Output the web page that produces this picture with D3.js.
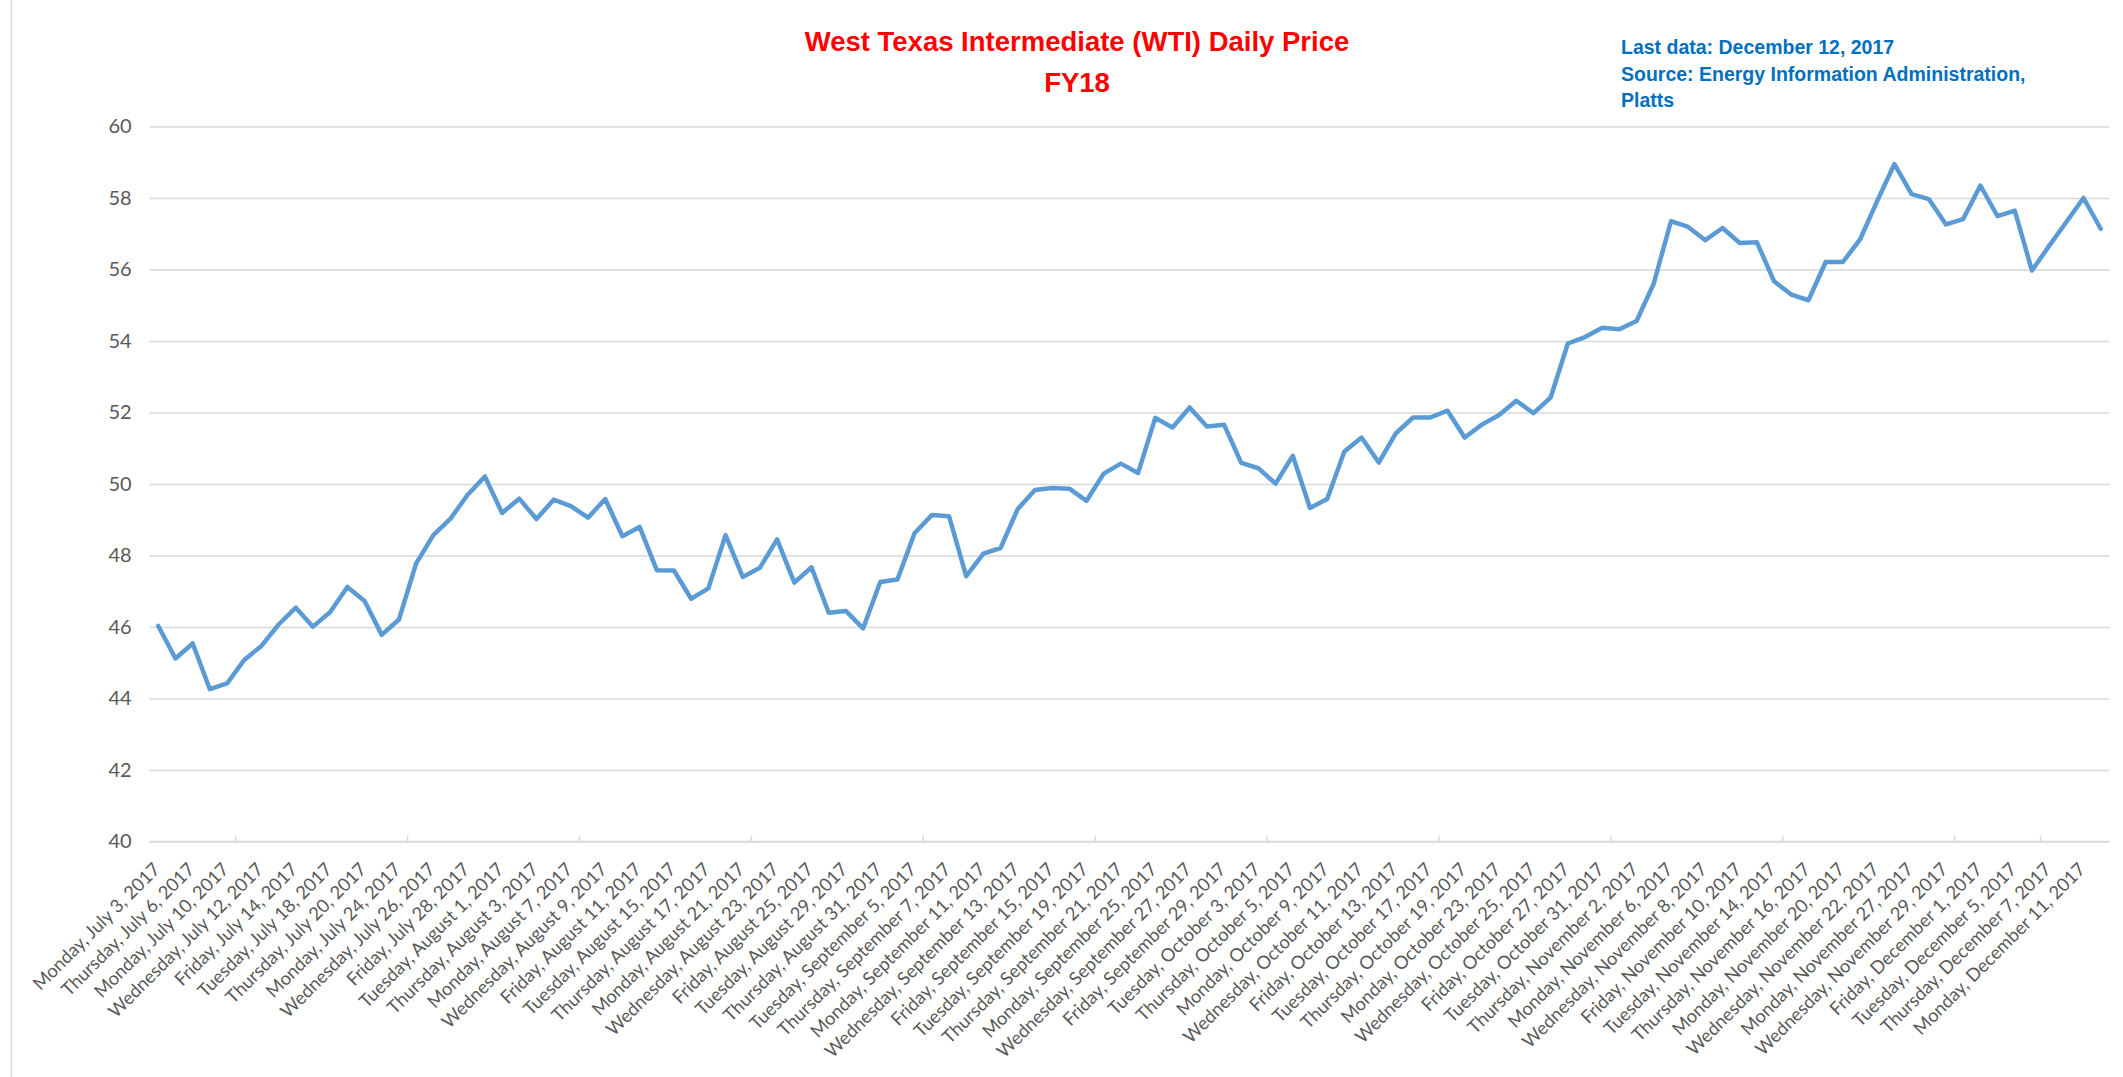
<!DOCTYPE html>
<html>
<head>
<meta charset="utf-8">
<script src="https://cdn.jsdelivr.net/npm/d3@7"></script>
<style>
    body { margin: 0; background: #fff; }
    svg { display: block; }
</style>
</head>
<body>
<svg id="chart" width="2123" height="1077"></svg>
<script>
// Trading days (EIA spot series), July 3 - December 12, 2017
const julyDays = [3, 5, 6, 7, 10, 11, 12, 13, 14, 17, 18, 19, 20, 21, 24, 25, 26, 27, 28, 31];
const augustDays = [1, 2, 3, 4, 7, 8, 9, 10, 11, 14, 15, 16, 17, 18, 21, 22, 23, 24, 25, 28, 29, 30, 31];
const septemberDays = [1, 5, 6, 7, 8, 11, 12, 13, 14, 15, 18, 19, 20, 21, 22, 25, 26, 27, 28, 29];
const octoberDays = [2, 3, 4, 5, 6, 9, 10, 11, 12, 13, 16, 17, 18, 19, 20, 23, 24, 25, 26, 27, 30, 31];
const novemberDays = [1, 2, 3, 6, 7, 8, 9, 10, 13, 14, 15, 16, 17, 20, 21, 22, 24, 27, 28, 29, 30];
const decemberDays = [1, 4, 5, 6, 7, 8, 11, 12];

// WTI daily price ($/bbl)
const wtiPrice = [
    46.03, 45.12, 45.54, 44.26, 44.42, 45.08, 45.47, 46.07, 46.54, 46.01,
    46.42, 47.12, 46.73, 45.78, 46.21, 47.78, 48.57, 49.03, 49.70, 50.21,
    49.19, 49.59, 49.02, 49.56, 49.38, 49.06, 49.58, 48.54, 48.80, 47.59,
    47.58, 46.79, 47.08, 48.57, 47.40, 47.66, 48.45, 47.24, 47.67, 46.40,
    46.45, 45.96, 47.26, 47.33, 48.63, 49.13, 49.10, 47.42, 48.05, 48.21,
    49.30, 49.83, 49.89, 49.87, 49.53, 50.29, 50.57, 50.31, 51.85, 51.58,
    52.14, 51.61, 51.66, 50.59, 50.44, 50.01, 50.79, 49.33, 49.58, 50.91,
    51.30, 50.60, 51.42, 51.86, 51.86, 52.05, 51.30, 51.66, 51.93, 52.33,
    51.98, 52.42, 53.93, 54.11, 54.37, 54.33, 54.56, 55.61, 57.35, 57.19,
    56.82, 57.16, 56.74, 56.76, 55.67, 55.30, 55.14, 56.21, 56.21, 56.84,
    57.92, 58.95, 58.11, 57.97, 57.26, 57.41, 58.35, 57.49, 57.65, 55.97,
    56.66, 57.33, 58.00, 57.14
];

const yTicks = [40, 42, 44, 46, 48, 50, 52, 54, 56, 58, 60];
const titleLines = ["West Texas Intermediate (WTI) Daily Price", "FY18"];
const noteLines = ["Last data: December 12, 2017", "Source: Energy Information Administration,", "Platts"];

// build the date list
const monthDays = [julyDays, augustDays, septemberDays, octoberDays, novemberDays, decemberDays];
const dates = [];
monthDays.forEach((days, m) => {
    days.forEach(d => dates.push(new Date(2017, 6 + m, d)));
});
const data = dates.map((d, i) => ({ date: d, key: i, value: wtiPrice[i] }));
const fmt = d3.timeFormat("%A, %B %-d, %Y");

const svg = d3.select("#chart");
const margin = { left: 149.7, right: 2109.3, top: 126.5, bottom: 841.5 };

const x = d3.scaleBand()
    .domain(data.map(d => d.key))
    .range([margin.left, margin.right])
    .padding(0);

const y = d3.scaleLinear()
    .domain([40, 60])
    .range([margin.bottom, margin.top]);

const grey = "#d9d9d9";
const labelGrey = "#595959";

// chart border (left edge visible)
svg.append("line")
    .attr("x1", 11.5).attr("x2", 11.5)
    .attr("y1", 0).attr("y2", 1077)
    .attr("stroke", grey)
    .attr("stroke-width", 1.5);

// gridlines + y labels
const yAxis = svg.append("g")
    .attr("transform", `translate(${margin.left},0)`)
    .call(d3.axisLeft(y).tickValues(yTicks).tickSize(-(margin.right - margin.left)).tickPadding(18));

yAxis.select(".domain").remove();
yAxis.selectAll(".tick line")
    .attr("stroke", grey)
    .attr("stroke-width", 1.3);
yAxis.selectAll(".tick text")
    .attr("fill", labelGrey)
    .style("font-family", "Lato, 'Open Sans', sans-serif")
    .style("font-size", "20px");

// x axis: line, tick marks, rotated labels
const xAxisG = svg.append("g")
    .attr("transform", `translate(0,${margin.bottom})`);

xAxisG.append("line")
    .attr("x1", margin.left).attr("x2", margin.right)
    .attr("stroke", grey)
    .attr("stroke-width", 1.5);

const tickBoundaries = [5, 15, 25, 35, 45, 55, 65, 75, 85, 95, 105, 110];
xAxisG.selectAll(".xtick")
    .data(tickBoundaries)
    .enter()
    .append("line")
    .attr("class", "xtick")
    .attr("x1", k => x(k)).attr("x2", k => x(k))
    .attr("y1", 0).attr("y2", -6)
    .attr("stroke", grey)
    .attr("stroke-width", 1.5);

// every other trading day gets a label
xAxisG.selectAll(".xlabel")
    .data(data.filter((d, i) => i % 2 === 0))
    .enter()
    .append("text")
    .attr("class", "xlabel")
    .attr("transform", d => `translate(${x(d.key) + x.bandwidth() / 2 + 3},29) rotate(-45)`)
    .attr("text-anchor", "end")
    .attr("fill", labelGrey)
    .style("font-family", "Lato, 'Open Sans', sans-serif")
    .style("font-size", "18.3px")
    .text(d => fmt(d.date));

// price line
const line = d3.line()
    .x(d => x(d.key) + x.bandwidth() / 2)
    .y(d => y(d.value));

svg.append("path")
    .datum(data)
    .attr("fill", "none")
    .attr("stroke", "#5b9bd5")
    .attr("stroke-width", 4.5)
    .attr("stroke-linejoin", "round")
    .attr("stroke-linecap", "round")
    .attr("d", line);

// title
svg.selectAll(".title")
    .data(titleLines)
    .enter()
    .append("text")
    .attr("class", "title")
    .attr("x", 1077)
    .attr("y", (t, i) => 51 + i * 41)
    .attr("text-anchor", "middle")
    .attr("fill", "#ff0000")
    .style("font-family", "'Liberation Sans', Arial, sans-serif")
    .style("font-weight", "bold")
    .style("font-size", "27.5px")
    .text(t => t);

// source note
svg.selectAll(".note")
    .data(noteLines)
    .enter()
    .append("text")
    .attr("class", "note")
    .attr("x", 1621)
    .attr("y", (t, i) => 54 + i * 26.5)
    .attr("fill", "#0070c0")
    .style("font-family", "'Liberation Sans', Arial, sans-serif")
    .style("font-weight", "bold")
    .style("font-size", "19.5px")
    .text(t => t);
</script>
</body>
</html>
